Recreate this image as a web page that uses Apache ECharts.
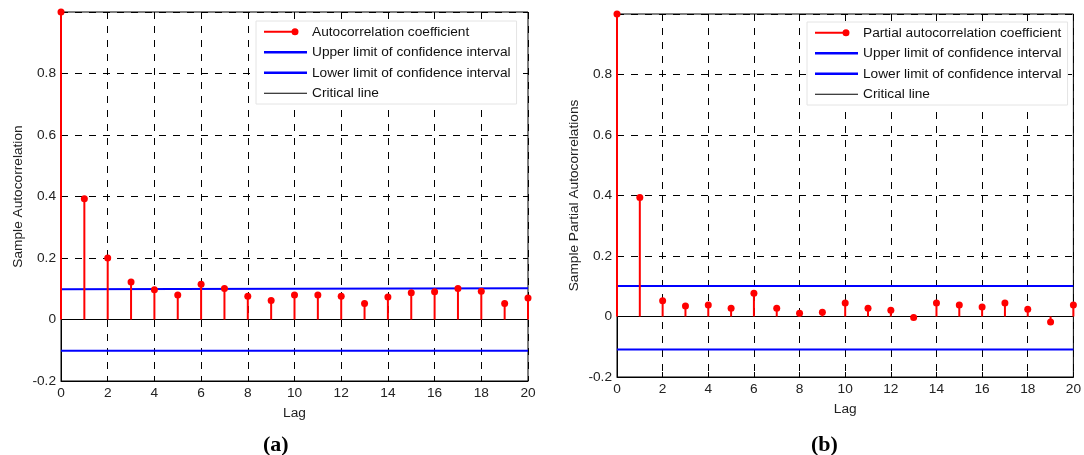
<!DOCTYPE html>
<html>
<head>
<meta charset="utf-8">
<script src="https://cdn.jsdelivr.net/npm/echarts@6/dist/echarts.min.js"></script>
<style>
  html, body { margin: 0; padding: 0; background: #fff; }
  #main { width: 1084px; height: 455px; }
</style>
</head>
<body>
<div id="main"></div>
<script>
// lags 0..20
var lags = [0,1,2,3,4,5,6,7,8,9,10,11,12,13,14,15,16,17,18,19,20];
// (a) sample autocorrelation
var acf = [1.0,0.393,0.200,0.122,0.097,0.080,0.115,0.101,0.076,0.062,0.080,0.080,0.076,0.052,0.073,0.087,0.090,0.101,0.092,0.052,0.070];
var acfUpper = [0.098, 0.102];
var acfLower = [-0.102, -0.102];
// (b) sample partial autocorrelation
var pacf = [1.0,0.393,0.052,0.035,0.038,0.027,0.077,0.027,0.011,0.014,0.045,0.027,0.021,-0.003,0.045,0.038,0.031,0.045,0.024,-0.018,0.038];
var pacfUpper = [0.101, 0.101];
var pacfLower = [-0.109, -0.109];
var yTicks = [-0.2, 0, 0.2, 0.4, 0.6, 0.8];

var font = 'Liberation Sans, Arial, sans-serif';
var fs = 13.7;
var chart = echarts.init(document.getElementById('main'));

function stems(name, values, idx) {
    return {
        name: name,
        type: 'custom',
        xAxisIndex: idx, yAxisIndex: idx,
        data: lags.map(function (l, i) { return [l, values[i]]; }),
        renderItem: function (params, api) {
            var top = api.coord([api.value(0), api.value(1)]);
            var base = api.coord([api.value(0), 0]);
            return {
                type: 'group',
                children: [
                    { type: 'line', shape: { x1: base[0], y1: base[1], x2: top[0], y2: top[1] },
                      style: { stroke: '#ff0000', lineWidth: 2 } },
                    { type: 'circle', shape: { cx: top[0], cy: top[1], r: 3.5 },
                      style: { fill: '#ff0000' } }
                ]
            };
        },
        itemStyle: { color: '#ff0000' },
        z: 5
    };
}

function hline(name, ends, idx, color, width) {
    return {
        name: name, type: 'line', xAxisIndex: idx, yAxisIndex: idx,
        data: [[0, ends[0]], [20, ends[1]]],
        symbol: 'none', silent: true,
        lineStyle: { color: color, width: width },
        itemStyle: { color: color },
        z: 4
    };
}

function xAx(idx) {
    return {
        gridIndex: idx, type: 'value', min: 0, max: 20, interval: 2,
        name: 'Lag', nameLocation: 'middle', nameGap: 25,
        nameTextStyle: { fontFamily: font, fontSize: fs, color: '#222' },
        axisLine: { onZero: false, lineStyle: { color: '#000' } },
        axisTick: { inside: true, length: 5, lineStyle: { color: '#000' } },
        axisLabel: { fontFamily: font, fontSize: fs, color: '#222', margin: 5 },
        splitLine: { show: true, lineStyle: { color: '#000', type: [7, 7], width: 1 } }
    };
}

function yAx(idx, name) {
    return {
        gridIndex: idx, type: 'value', min: -0.2, max: 1, interval: 0.2,
        name: name, nameLocation: 'middle', nameGap: 36,
        nameTextStyle: { fontFamily: font, fontSize: fs, color: '#222' },
        axisLine: { lineStyle: { color: '#000' } },
        axisTick: { inside: true, length: 5, lineStyle: { color: '#000' } },
        axisLabel: {
            fontFamily: font, fontSize: fs, color: '#222', margin: 5,
            formatter: function (v) {
                var r = Math.round(v * 10) / 10;
                return yTicks.indexOf(r) >= 0 ? String(r) : '';
            }
        },
        splitLine: { show: true, lineStyle: { color: '#000', type: [7, 7], width: 1 } }
    };
}

var stemIcon = 'path://M0 3h31v2H0z M27.5 4a3.5 3.5 0 1 1 7 0a3.5 3.5 0 1 1 -7 0z M42.98 0.5h0.02v0.02h-0.02z';
var lineIcon = 'path://M0 0h43v2.4H0z';
var thinIcon = 'path://M0 0h43v1.2H0z';

function legend(left, top, first) {
    return {
        orient: 'vertical', left: left, top: top,
        backgroundColor: '#fff', borderColor: '#e4e4e4', borderWidth: 1,
        padding: [3, 6, 3, 8], itemGap: 5, itemWidth: 43, itemHeight: 8,
        textStyle: { fontFamily: font, fontSize: fs, color: '#111', lineHeight: 15.5 },
        selectedMode: false,
        data: [
            { name: first, icon: stemIcon },
            { name: 'Upper limit of confidence interval', icon: lineIcon },
            { name: 'Lower limit of confidence interval', icon: lineIcon },
            { name: 'Critical line', icon: thinIcon }
        ]
    };
}

function panelTag(letter, left) {
    return {
        text: '{p|(}{b|' + letter + '}{p|)}', left: left, top: 429,
        textStyle: { rich: {
            p: { fontFamily: 'Liberation Serif, serif', fontSize: 22, color: '#000' },
            b: { fontFamily: 'Liberation Serif, serif', fontSize: 22, fontWeight: 'bold', color: '#000' } } }
    };
}

var option = {
    animation: false,
    backgroundColor: '#fff',
    grid: [
        { left: 61, top: 12, width: 467, height: 369, show: true, borderColor: '#000', borderWidth: 1 },
        { left: 617, top: 14, width: 461, height: 363, show: true, borderColor: '#000', borderWidth: 1 }
    ],
    xAxis: [xAx(0), xAx(1)],
    yAxis: [yAx(0, 'Sample Autocorrelation'), yAx(1, 'Sample Partial Autocorrelations')],
    legend: [
        legend(256, 21, 'Autocorrelation coefficient'),
        legend(807, 22, 'Partial autocorrelation coefficient')
    ],
    title: [panelTag('a', 258), panelTag('b', 806)],
    series: [
        hline('Critical line', [0, 0], 0, '#000', 1),
        hline('Upper limit of confidence interval', acfUpper, 0, '#0000ff', 2),
        hline('Lower limit of confidence interval', acfLower, 0, '#0000ff', 2),
        stems('Autocorrelation coefficient', acf, 0),
        hline('Critical line', [0, 0], 1, '#000', 1),
        hline('Upper limit of confidence interval', pacfUpper, 1, '#0000ff', 2),
        hline('Lower limit of confidence interval', pacfLower, 1, '#0000ff', 2),
        stems('Partial autocorrelation coefficient', pacf, 1)
    ]
};
chart.setOption(option);
</script>
</body>
</html>
